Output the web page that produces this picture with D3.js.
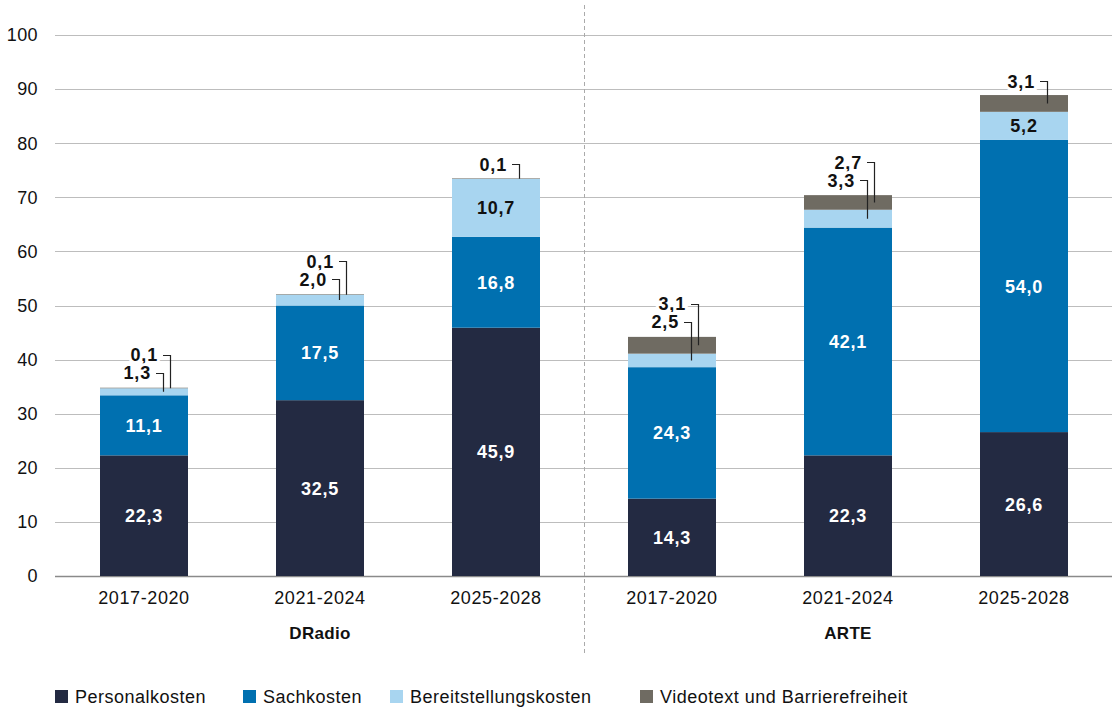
<!DOCTYPE html>
<html>
<head>
<meta charset="utf-8">
<script src="https://cdn.jsdelivr.net/npm/d3@7"></script>
<style>
  body { margin: 0; background: #fff; }
  text { font-family: "Liberation Sans", Arial, sans-serif; }
</style>
</head>
<body>
<svg id="chart" width="1112" height="708"></svg>
<script>
// data
var groups = ["DRadio", "ARTE"];
var periods = ["2017-2020", "2021-2024", "2025-2028"];
var seriesNames = ["Personalkosten", "Sachkosten", "Bereitstellungskosten", "Videotext und Barrierefreiheit"];
var colors = ["#232a42", "#0070b0", "#a8d5f0", "#6f6b62"];
var personal = [22.3, 32.5, 45.9, 14.3, 22.3, 26.6];
var sach = [11.1, 17.5, 16.8, 24.3, 42.1, 54.0];
var bereit = [1.3, 2.0, 10.7, 2.5, 3.3, 5.2];
var video = [0.1, 0.1, 0.1, 3.1, 2.7, 3.1];
var yTicks = [0, 10, 20, 30, 40, 50, 60, 70, 80, 90, 100];

var rows = [];
groups.forEach(function (g, gi) {
    periods.forEach(function (p, pi) {
        var i = gi * 3 + pi;
        rows.push({ key: g + "|" + p, group: g, period: p,
            s0: personal[i], s1: sach[i], s2: bereit[i], s3: video[i] });
    });
});

var svg = d3.select("#chart");
var margin = { left: 56, right: 0, top: 35, bottom: 132 };
var width = 1112, height = 708;

var x = d3.scaleBand()
    .domain(rows.map(function (d) { return d.key; }))
    .range([margin.left, width - margin.right])
    .paddingInner(0.5)
    .paddingOuter(0.25);

var y = d3.scaleLinear()
    .domain([0, 100])
    .range([576, 35]);

var de = d3.formatLocale({ decimal: ",", thousands: ".", grouping: [3], currency: ["", "€"] });
var fmt = de.format(".1f");

// gridlines
svg.append("g").selectAll("line")
    .data(yTicks)
    .enter().append("line")
    .attr("x1", 55).attr("x2", width)
    .attr("y1", function (d) { return Math.round(y(d)) + 0.5; })
    .attr("y2", function (d) { return Math.round(y(d)) + 0.5; })
    .attr("stroke", function (d) { return d === 0 ? "#8a8a8a" : "#bdbdbd"; })
    .attr("stroke-width", function (d) { return d === 0 ? 1.5 : 1; });

// y labels
svg.append("g").selectAll("text")
    .data(yTicks)
    .enter().append("text")
    .attr("x", 38)
    .attr("y", function (d) { return y(d); })
    .attr("dy", "0.35em")
    .attr("text-anchor", "end")
    .style("font-size", "18px")
    .style("letter-spacing", "0.4px")
    .attr("fill", "#111")
    .text(function (d) { return d; });

// divider
svg.append("line")
    .attr("x1", 584.5).attr("x2", 584.5)
    .attr("y1", 5).attr("y2", 655)
    .attr("stroke", "#aaa")
    .attr("stroke-dasharray", "4,3");

// stacked bars
var stack = d3.stack().keys(["s0", "s1", "s2", "s3"]);
var stacked = stack(rows);

var layer = svg.append("g").selectAll("g")
    .data(stacked)
    .enter().append("g")
    .attr("fill", function (d, i) { return colors[i]; });

layer.selectAll("rect")
    .data(function (d) { return d; })
    .enter().append("rect")
    .attr("x", function (d) { return x(d.data.key); })
    .attr("width", x.bandwidth())
    .attr("y", function (d) { return y(d[1]); })
    .attr("height", function (d) { return y(d[0]) - y(d[1]); });

// inside labels
stacked.forEach(function (s, si) {
    s.forEach(function (d) {
        var v = d[1] - d[0];
        if (v < 4) return;
        svg.append("text")
            .attr("x", x(d.data.key) + x.bandwidth() / 2)
            .attr("y", (y(d[0]) + y(d[1])) / 2)
            .attr("dy", "0.36em")
            .attr("text-anchor", "middle")
            .style("font-size", "18px")
            .style("font-weight", "bold")
            .style("letter-spacing", "0.8px")
            .attr("fill", si === 2 ? "#111" : "#fff")
            .text(fmt(v));
    });
});

// callouts for small segments
rows.forEach(function (r) {
    var cx = x(r.key) + x.bandwidth() / 2;
    var top = y(r.s0 + r.s1 + r.s2 + r.s3);
    var small = [];
    stacked.forEach(function (s, si) {
        var d = s.find(function (e) { return e.data.key === r.key; });
        var v = d[1] - d[0];
        if (v < 4) small.push({ v: v, mid: (y(d[0]) + y(d[1])) / 2, si: si });
    });
    small.sort(function (a, b) { return b.si - a.si; });
    small.forEach(function (c, k) {
        var lx, ly;
        if (small.length === 1) { lx = cx + 23; ly = top - 14; }
        else if (k === 0) { lx = cx + 26; ly = top - 33; }
        else { lx = cx + 19; ly = top - 15; }
        var endY = Math.max(c.mid, top + 0.5);
        svg.append("path")
            .attr("d", "M" + (lx - 7) + "," + (Math.round(ly) + 0.5) + "H" + (lx + 0.5) + "V" + endY)
            .attr("fill", "none")
            .attr("stroke", "#222")
            .attr("stroke-width", 1.2);
        svg.append("text")
            .attr("x", lx - 12)
            .attr("y", ly)
            .attr("dy", "0.36em")
            .attr("text-anchor", "end")
            .style("font-size", "18px")
            .style("font-weight", "bold")
            .style("letter-spacing", "0.8px")
            .attr("fill", "#111")
            .attr("stroke", "#fff")
            .attr("stroke-width", 6)
            .attr("paint-order", "stroke")
            .text(fmt(c.v));
    });
});

// x labels
svg.append("g").selectAll("text")
    .data(rows)
    .enter().append("text")
    .attr("x", function (d) { return x(d.key) + x.bandwidth() / 2; })
    .attr("y", 604)
    .attr("text-anchor", "middle")
    .style("font-size", "18px")
    .style("letter-spacing", "0.6px")
    .attr("fill", "#111")
    .text(function (d) { return d.period; });

// group labels
groups.forEach(function (g) {
    var k = g + "|" + periods[1];
    svg.append("text")
        .attr("x", x(k) + x.bandwidth() / 2)
        .attr("y", 639)
        .attr("text-anchor", "middle")
        .style("font-size", "17px")
        .style("font-weight", "bold")
        .style("letter-spacing", "0.3px")
        .attr("fill", "#111")
        .text(g);
});

// legend
var legendX = [55, 243, 390, 640];
var legend = svg.append("g").selectAll("g")
    .data(seriesNames)
    .enter().append("g")
    .attr("transform", function (d, i) { return "translate(" + legendX[i] + ",690)"; });
legend.append("rect")
    .attr("width", 13).attr("height", 13)
    .attr("fill", function (d, i) { return colors[i]; });
legend.append("text")
    .attr("x", 20)
    .attr("y", 7)
    .attr("dy", "0.36em")
    .style("font-size", "18px")
    .style("letter-spacing", "0.5px")
    .attr("fill", "#111")
    .text(function (d) { return d; });
</script>
</body>
</html>
